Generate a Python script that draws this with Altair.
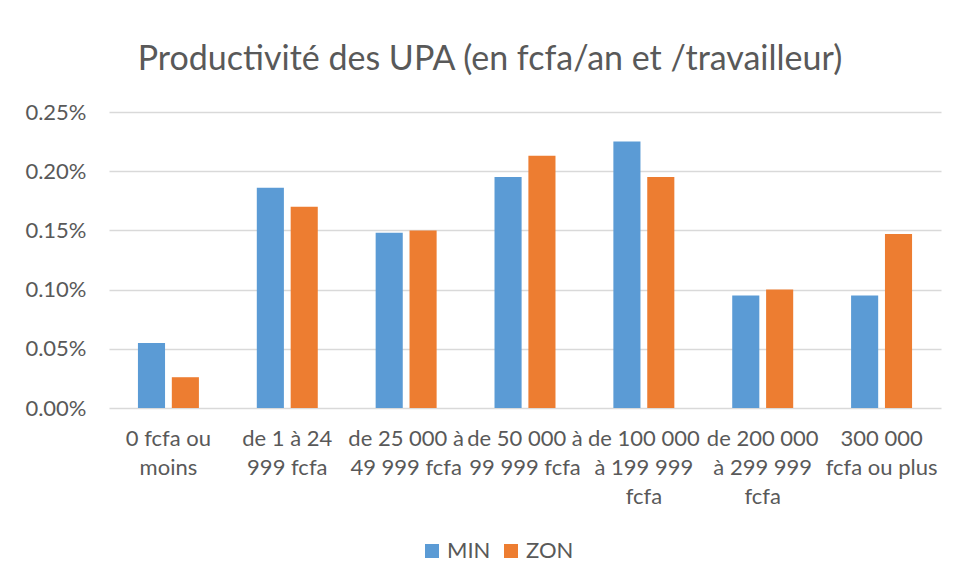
import altair as alt
import pandas as pd

categories = [
    "0 fcfa ou\nmoins",
    "de 1 à 24\n999 fcfa",
    "de 25 000 à\n49 999 fcfa",
    "de 50 000 à\n99 999 fcfa",
    "de 100 000\nà 199 999\nfcfa",
    "de 200 000\nà 299 999\nfcfa",
    "300 000\nfcfa ou plus",
]
series = ["MIN", "ZON"]
min_values = [0.055, 0.186, 0.148, 0.195, 0.225, 0.095, 0.095]
zon_values = [0.026, 0.170, 0.150, 0.213, 0.195, 0.100, 0.147]
y_ticks = [0.00, 0.05, 0.10, 0.15, 0.20, 0.25]
colors = ["#5B9BD5", "#ED7D31"]

rows = []
for c, a, b in zip(categories, min_values, zon_values):
    rows.append({"cat": c, "serie": "MIN", "val": a})
    rows.append({"cat": c, "serie": "ZON", "val": b})
df = pd.DataFrame(rows)

FONT = "Lato"
GREY = "#595959"

chart = alt.Chart(df).mark_bar().encode(
    x=alt.X(
        "cat:N",
        sort=categories,
        title=None,
        scale=alt.Scale(paddingInner=0.487, paddingOuter=0.2435),
        axis=alt.Axis(
            labelExpr="split(datum.label, '\\n')",
            labelAngle=0,
            labelFont=FONT,
            labelFontSize=22,
            labelColor=GREY,
            labelLineHeight=29,
            labelPadding=20,
            labelBaseline="top",
            ticks=False,
            domain=False,
            grid=False,
        ),
    ),
    xOffset=alt.XOffset("serie:N", sort=series, scale=alt.Scale(paddingInner=0.2)),
    y=alt.Y(
        "val:Q",
        title=None,
        scale=alt.Scale(domain=[0, 0.25], nice=False),
        axis=alt.Axis(
            values=y_ticks,
            labelExpr="format(datum.value, '.2f') + '%'",
            labelFont=FONT,
            labelFontSize=22,
            labelColor=GREY,
            labelPadding=23,
            ticks=False,
            domain=False,
            grid=True,
            gridColor="#D9D9D9",
            gridWidth=1.3,
        ),
    ),
    color=alt.Color(
        "serie:N",
        sort=series,
        scale=alt.Scale(domain=series, range=colors),
        legend=alt.Legend(
            title=None,
            orient="none",
            direction="horizontal",
            legendX=312,
            legendY=428,
            symbolType="square",
            symbolSize=196,
            symbolStrokeWidth=0,
            labelFont=FONT,
            labelFontSize=22,
            labelColor=GREY,
            columnPadding=9,
            labelOffset=4,
        ),
    ),
).properties(
    width=832,
    height=296,
    autosize=alt.AutoSizeParams(type="none"),
    padding={"left": 101, "top": 104, "right": 8, "bottom": 160},
    title=alt.TitleParams(
        "Productivité des UPA (en fcfa/an et /travailleur)",
        font=FONT,
        fontSize=34,
        fontWeight="normal",
        color=GREY,
        anchor="middle",
        dx=-35,
        offset=24,
    ),
).configure_view(stroke=None)

chart.save("out.html", embed_options={"renderer": "svg", "actions": False})
